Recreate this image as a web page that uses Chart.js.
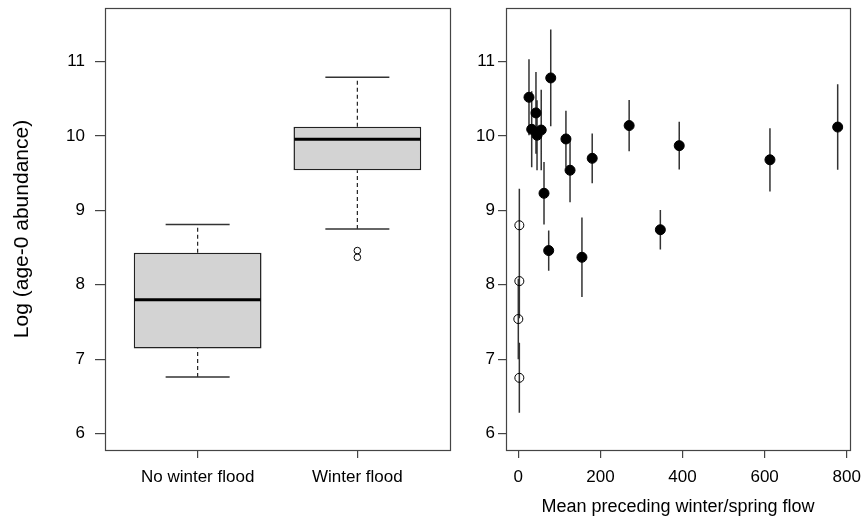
<!DOCTYPE html>
<html><head><meta charset="utf-8">
<script src="https://cdn.jsdelivr.net/npm/chart.js@4.4.1/dist/chart.umd.min.js"></script>
<style>
html,body{margin:0;padding:0;background:#fff;}
#wrap{position:relative;width:863px;height:519px;overflow:hidden;background:#fff;}
#c1{position:absolute;left:0;top:0;}
#c2{position:absolute;left:455px;top:0;}
</style></head><body>
<div id="wrap"><canvas id="c1" width="455" height="519"></canvas><canvas id="c2" width="408" height="519"></canvas></div>
<script>
// ---- Left panel: box plot summary ----
const categories = ['No winter flood', 'Winter flood'];
const boxPos = [1, 2];
const boxMin = [6.76, 8.75];
const boxQ1 = [7.145, 9.54];
const boxMed = [7.80, 9.955];
const boxQ3 = [8.43, 10.125];
const boxMax = [8.81, 10.79];
const boxOutliers = [[], [8.46, 8.37]];

// ---- Right panel: points with error bars ----
const flowFlood = [26, 79, 43, 32.6, 45.6, 55.8, 116, 126, 62.6, 180, 270, 392, 613, 778, 346, 74, 155];
const abundFlood = [10.52, 10.78, 10.31, 10.09, 10.01, 10.08, 9.96, 9.54, 9.23, 9.70, 10.14, 9.87, 9.68, 10.12, 8.74, 8.46, 8.37];
const errFlood = [0.51, 0.65, 0.55, 0.51, 0.47, 0.54, 0.38, 0.43, 0.42, 0.335, 0.345, 0.32, 0.425, 0.575, 0.265, 0.27, 0.535];
const flowNoFlood = [2.5, 2.5, 0, 2.5];
const abundNoFlood = [8.80, 8.05, 7.54, 6.75];
const errNoFlood = [0.49, 0.50, 0.54, 0.47];

// ---- tick labels ----
const yTicks = [6, 7, 8, 9, 10, 11];
const xFlowTicks = [0, 200, 400, 600, 800];

const FONT = "'Liberation Sans', Arial, Helvetica, sans-serif";
Chart.defaults.font.family = FONT;
Chart.defaults.color = '#000';
Chart.defaults.animation = false;

const framePlugin = {
  id: 'frame',
  afterDraw(chart) {
    const a = chart.chartArea, ctx = chart.ctx;
    ctx.save();
    ctx.strokeStyle = '#444';
    ctx.lineWidth = 1.2;
    ctx.strokeRect(Math.round(a.left) + 0.5, Math.round(a.top) + 0.5, Math.round(a.right - a.left), Math.round(a.bottom - a.top));
    ctx.restore();
  }
};

function zeroPad(s) { s.paddingTop = 0; s.paddingBottom = 0; s.paddingLeft = 0; s.paddingRight = 0; }

function yScale(width, tickLen, pad, title) {
  return {
    type: 'linear', min: 5.78, max: 11.72, beginAtZero: false,
    afterBuildTicks: s => { s.ticks = yTicks.map(v => ({ value: v })); },
    afterFit: s => { s.width = width; zeroPad(s); },
    ticks: { font: { size: 17 }, color: '#000', padding: pad },
    grid: { drawOnChartArea: false, drawTicks: true, tickLength: tickLen, color: '#444', lineWidth: 1.2 },
    border: { display: false },
    title: title
  };
}

// whisker segments
const whiskerData = [];
boxPos.forEach((p, i) => {
  whiskerData.push({ x: p, y: boxQ3[i] }, { x: p, y: boxMax[i] }, { x: p, y: null });
  whiskerData.push({ x: p, y: boxMin[i] }, { x: p, y: boxQ1[i] }, { x: p, y: null });
});
const capData = [];
boxPos.forEach((p, i) => { capData.push({ x: p, y: boxMin[i] }, { x: p, y: boxMax[i] }); });
const outlierData = [];
boxPos.forEach((p, i) => boxOutliers[i].forEach(v => outlierData.push({ x: p, y: v })));

new Chart(document.getElementById('c1'), {
  type: 'bar',
  data: {
    datasets: [
      { type: 'bar', data: boxPos.map((p, i) => ({ x: p, y: [boxQ1[i], boxQ3[i]] })),
        backgroundColor: '#d3d3d3', borderColor: '#222', borderWidth: 1.5, borderSkipped: false,
        categoryPercentage: 1, barPercentage: 0.8, order: 5 },
      { type: 'line', data: whiskerData, borderColor: '#222', borderWidth: 1.2, borderDash: [4, 3],
        pointRadius: 0, spanGaps: false, fill: false, order: 4 },
      { type: 'scatter', data: capData, pointStyle: 'line', pointRadius: 32, borderWidth: 1.5,
        borderColor: '#333', order: 3 },
      { type: 'scatter', data: boxPos.map((p, i) => ({ x: p, y: boxMed[i] })), pointStyle: 'line',
        pointRadius: 63, borderWidth: 3, borderColor: '#000', order: 1 },
      { type: 'scatter', data: outlierData, pointStyle: 'circle', pointRadius: 3.3, borderWidth: 1,
        borderColor: '#000', backgroundColor: 'rgba(0,0,0,0)', order: 2 }
    ]
  },
  options: {
    responsive: false, events: [],
    layout: { autoPadding: false, padding: { left: 0, right: 5, top: 8, bottom: 0 } },
    plugins: { legend: { display: false }, tooltip: { enabled: false } },
    scales: {
      x: {
        type: 'linear', min: 0.42, max: 2.58, offset: false,
        afterBuildTicks: s => { s.ticks = boxPos.map(v => ({ value: v })); },
        afterFit: s => { s.height = 69; zeroPad(s); },
        ticks: { font: { size: 17 }, color: '#000', padding: 9, maxRotation: 0,
          callback: v => categories[boxPos.indexOf(v)] },
        grid: { offset: false, drawOnChartArea: false, drawTicks: true, tickLength: 8, color: '#444', lineWidth: 1.2 },
        border: { display: false }
      },
      y: yScale(105, 10, 10, { display: true, text: 'Log (age-0 abundance)', font: { size: 21 }, color: '#000', padding: { top: 10, bottom: 0 } })
    }
  },
  plugins: [framePlugin]
});

// error bars
const errData = [];
flowNoFlood.forEach((x, i) => {
  errData.push({ x, y: abundNoFlood[i] - errNoFlood[i] }, { x, y: abundNoFlood[i] + errNoFlood[i] }, { x, y: null });
});
flowFlood.forEach((x, i) => {
  errData.push({ x, y: abundFlood[i] - errFlood[i] }, { x, y: abundFlood[i] + errFlood[i] }, { x, y: null });
});

new Chart(document.getElementById('c2'), {
  type: 'scatter',
  data: {
    datasets: [
      { type: 'line', data: errData, borderColor: '#333', borderWidth: 1.5, pointRadius: 0,
        spanGaps: false, fill: false, order: 3 },
      { data: flowNoFlood.map((x, i) => ({ x, y: abundNoFlood[i] })), pointStyle: 'circle', pointRadius: 4.5,
        borderWidth: 1, borderColor: '#000', backgroundColor: 'rgba(0,0,0,0)', order: 2 },
      { data: flowFlood.map((x, i) => ({ x, y: abundFlood[i] })), pointStyle: 'circle', pointRadius: 5,
        borderWidth: 1, borderColor: '#000', backgroundColor: '#000', order: 1 }
    ]
  },
  options: {
    responsive: false, events: [],
    layout: { autoPadding: false, padding: { left: 0, right: 13, top: 8, bottom: 0 } },
    plugins: { legend: { display: false }, tooltip: { enabled: false } },
    scales: {
      x: {
        type: 'linear', min: -30, max: 808,
        afterBuildTicks: s => { s.ticks = xFlowTicks.map(v => ({ value: v })); },
        afterFit: s => { s.height = 69; zeroPad(s); },
        ticks: { font: { size: 17 }, color: '#000', padding: 9, maxRotation: 0 },
        grid: { drawOnChartArea: false, drawTicks: true, tickLength: 8, color: '#444', lineWidth: 1.2 },
        border: { display: false },
        title: { display: true, text: 'Mean preceding winter/spring flow', font: { size: 18 }, color: '#000', padding: { top: 0, bottom: 1 } }
      },
      y: yScale(51, 8, 3, { display: false })
    }
  },
  plugins: [framePlugin]
});
</script>
</body></html>
